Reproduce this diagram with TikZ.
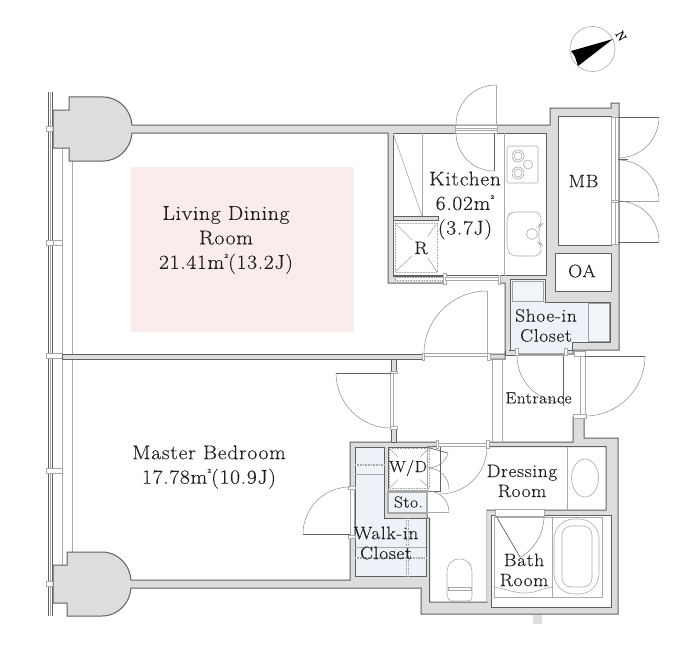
\documentclass[tikz,border=0pt]{standalone}
\usepackage{fontspec}
\setmainfont{Latin Modern Roman}[FakeStretch=1.08,LetterSpace=3.5,FakeBold=0.15]
\usetikzlibrary{calc}
\definecolor{wallfill}{HTML}{DCDEDD}
\definecolor{wallline}{HTML}{5F6161}
\definecolor{thin}{HTML}{A8AAAA}
\definecolor{pinkroom}{HTML}{F9ECEB}
\definecolor{closet}{HTML}{EDF2F9}
\definecolor{shelf}{HTML}{9EA2A6}
\tikzset{
  wall/.style={fill=wallfill,draw=wallline,line width=1pt,line join=miter},
  room/.style={fill=white,draw=wallline,line width=1pt},
  walkin/.style={fill=closet,draw=wallline,line width=1pt},
  fixture/.style={draw=thin,line width=.6pt},
  arcline/.style={draw=thin!90!black,line width=.6pt},
  leaf/.style={draw=wallline,line width=.7pt},
  jamb/.style={fill=white,draw=thin,line width=.6pt},
  dots/.style={draw=thin,line width=.6pt,densely dotted},
  label/.style={font=\fontsize{20}{24.5}\selectfont,align=center,inner sep=0pt,text=black!88},
  midlabel/.style={font=\fontsize{18}{20}\selectfont,align=center,inner sep=0pt,text=black!88},
  smalllabel/.style={font=\fontsize{16}{19}\selectfont,align=center,inner sep=0pt,text=black!88},
}
\newcommand{\sqm}{m\raisebox{.55em}{\fontsize{6}{6}\selectfont 2}}
\begin{document}
\begin{tikzpicture}[x=1pt,y=-1pt]
\useasboundingbox (0,0) rectangle (700,650);
% pink living zone
\fill[pinkroom] (131,167) rectangle (354,332);
% window lines
\foreach \xx in {48.5,52.5}{\draw[draw=wallline,line width=.6pt] (\xx,92) -- (\xx,616);}
\draw[fixture] (50.5,92) -- (50.5,616);
\draw[fixture] (62,148) -- (62,565);
\draw[fixture] (72,161) -- (72,552);
% mullions
\draw[jamb] (46,126) rectangle (53,131);
\draw[jamb] (46,240) rectangle (53,245);
\draw[jamb] (53,240) rectangle (62,245);
\draw[jamb] (46,353) rectangle (62,358);
\draw[jamb] (46,468) rectangle (62,473);
\draw[jamb] (46,581) rectangle (53,586);
% partition living / bedroom
\draw[wall] (62,354.5) rectangle (422,359);
\draw[wall] (391,359) rectangle (396,371);
% columns and top wall + right block
\draw[wall] (53,110) -- (69,110) -- (69,97) -- (103,97)
  .. controls (119,97) and (131,110) .. (132,125)
  -- (550,125) -- (550,108) -- (611,108) -- (611,103) -- (619,103)
  -- (619,350) -- (573,350) -- (573,354) -- (515,354) -- (515,354.5) -- (505,354.5) -- (505,359) -- (488,359) -- (488,354) -- (505,354) -- (505,283)
  -- (499,283) -- (499,276) -- (443,276) -- (443,283) -- (388,283) -- (388,133)
  -- (132,133) .. controls (131,148) and (119,161) .. (103,161)
  -- (69,161) -- (69,148) -- (53,148) -- cycle;
% kitchen
\draw[room] (393,133) rectangle (546,275.5);
\fill[white] (443,276) rectangle (499,282.6);
\draw[wall] (393,216) rectangle (438,220);
% MB, OA
\draw[room] (558,116) -- (611,116) -- (611,245) -- (558,245) -- cycle;
\draw[room] (555,253) rectangle (611,291);
% shoe-in closet
\draw[walkin] (510,279) -- (545,279) -- (545,302) -- (610,302) -- (610,342) -- (572,342) -- (572,350) -- (510,350) -- cycle;
\draw[fill=closet!80!white,draw=shelf,line width=1pt] (512,281) rectangle (543,301);
\draw[fill=closet!80!white,draw=shelf,line width=1pt] (588,303) rectangle (609,341);
\fill[closet] (515,349) rectangle (565,353);
\draw[draw=thin,line width=.7pt] (516,353) -- (565,353) (516,355.5) -- (565,355.5);
\draw[wall] (505,350) rectangle (515,355);
\fill[wallfill] (505.6,340) rectangle (509.4,354);
\draw[jamb] (515,348) rectangle (518,355);
\draw[jamb] (564,348) rectangle (567,355);
% lower block
\draw[wall] (131,580) -- (350,580) -- (350,442) -- (437,442) -- (437,447) -- (487,447) -- (487,442)
  -- (573,442) -- (573,416) -- (584,416) -- (584,438) -- (618,438) -- (618,614)
  -- (421,614) -- (421,588) -- (131,588)
  .. controls (130,603) and (118,616) .. (102,616) -- (67,616) -- (67,603) -- (53,603) -- (53,565) -- (67,565) -- (67,552) -- (102,552)
  .. controls (118,552) and (130,565) .. (131,580) -- cycle;
\fill[wallfill] (533,614.5) rectangle (542,624);
\draw[wall] (391,429) rectangle (396,442);
% dressing + toilet interior
\draw[room] (437,446.5) -- (606,446.5) -- (606,510) -- (487,510) -- (487,602) -- (429.5,602) -- (429.5,518) -- (427,518) -- (427,447) -- cycle;
\fill[white] (437.6,442) rectangle (486.4,447.5);
% bath
\draw[room] (491,515) -- (611,515) -- (611,607) -- (491,607) -- cycle;
\fill[wallfill] (487.4,510.5) rectangle (490.6,601.5);
\fill[wallfill] (487.4,510.5) rectangle (495,514.6);
\fill[wallfill] (544,510.5) rectangle (610.6,514.6);
% walk-in closet
\draw[walkin] (355,447) -- (384,447) -- (384,518) -- (426,518) -- (426,576) -- (355,576) -- cycle;
\fill[white] (349,488) rectangle (355,535);
\draw[fixture] (350,488) -- (350,535) (354,488) -- (354,535);
\fill[wallfill] (426.5,518.5) rectangle (429,580);
\draw[jamb] (348,486) rectangle (355,489);
\draw[jamb] (348,535) rectangle (355,538);
\foreach \yy in {464,557}{\draw[dots] (355,\yy) -- (384,\yy) (355,\yy+1.5) -- (384,\yy+1.5);}
\draw[dots] (384,557) -- (426,557) (384,558.5) -- (426,558.5);
\draw[fixture] (355,474) -- (384,474) (355,547) -- (426,547);
\draw[dots] (406,518) -- (406,576) (408,518) -- (408,576);
% W/D and Sto
\draw[fill=white,draw=none] (388,447) rectangle (427,490);
\draw[draw=wallline,line width=1pt] (388,490) -- (388,447) -- (427,447);
\draw[draw=thin,line width=1pt] (388,490) -- (427,490);
\draw[dots] (389.5,448.5) rectangle (429,488);
\draw[fixture] (389.5,448.5) -- (398,457) (429,448.5) -- (420,457) (389.5,488) -- (398,479.5) (429,488) -- (420,479.5);
\draw[fill=closet,draw=thin,line width=1.3pt] (388,492) rectangle (427,513);
\draw[draw=thin,line width=1pt] (427,448) -- (427,513);
% doors: kitchen
\draw[jamb] (455,125) rectangle (497,133);
\draw[fixture] (455,128) -- (497,128) (455,130.5) -- (497,130.5);
\draw[draw=thin,line width=1pt] (496,85) -- (496,125);
\draw[arcline] (496,85) arc[start angle=270,end angle=180,radius=40];
\draw[leaf] (494,133) -- (494,171);
\draw[arcline] (456,133) arc[start angle=180,end angle=90,radius=38];
% kitchen fixtures
\draw[fixture] (504,133) -- (504,275.5);
\draw[fixture] (422,133) -- (422,216);
\draw[fixture] (393,133) -- (422,216);
\draw[fixture,rounded corners=1.5pt] (507,146) rectangle (538,183);
\foreach \yy in {156,173}{\draw[fixture] (518,\yy) circle[radius=6]; \draw[fixture] (518,\yy) circle[radius=4];}
\draw[fixture] (528,164.5) circle[radius=4.5];
\draw[fixture,rounded corners=5pt] (507,216) -- (512,212) -- (540,212) -- (542,224) -- (539,226) -- (539,243) -- (542,245) -- (540,256) -- (512,256) -- (507,250) -- cycle;
\draw[fixture] (532,234) circle[radius=5.5];
% R box
\draw[dots] (395,223) rectangle (437,272);
\draw[fixture] (395,223) -- (412,240) (437,223) -- (428,236) (395,272) -- (412,256) (437,272) -- (428,258);
% closet below R
\fill[wallline] (393,275) rectangle (443,277);
\draw[fill=white,draw=thin,densely dotted,line width=.6pt] (395,277.5) rectangle (443,280.5);
\draw[jamb] (443,273) rectangle (446,284);
\draw[jamb] (445.5,277) rectangle (498,280);
\draw[jamb] (498,275) rectangle (500.5,284);
% MB doors
\draw[jamb] (611,117) rectangle (618,244);
\draw[fixture] (615.5,117) -- (615.5,244);
\draw[jamb] (611,200) rectangle (618,202);
\draw[leaf] (618,117) -- (659,117);
\draw[arcline] (659,117) arc[start angle=0,end angle=90,radius=41];
\draw[arcline] (618,160) arc[start angle=270,end angle=360,radius=41];
\draw[leaf] (618,159) -- (628,159);
\draw[draw=thin,line width=1pt] (628,201) -- (659,201);
\draw[leaf] (618,201) -- (628,201);
\draw[arcline] (618,201) arc[start angle=270,end angle=360,radius=41];
\draw[leaf] (618,242) -- (659,242);
% living door
\draw[draw=thin,line width=1pt] (487,291) -- (487,353);
\draw[arcline] (487,291) arc[start angle=270,end angle=180,radius=63];
\draw[fixture] (424,353.5) -- (487,353.5) (424,356) -- (487,356);
\draw[jamb] (422,353) rectangle (424.5,360);
\draw[jamb] (487,353) rectangle (490,360);
% bedroom door
\draw[jamb] (390,371.5) rectangle (397,373.5);
\draw[jamb] (390,426.5) rectangle (397,429);
\draw[fixture] (390.5,373.5) -- (390.5,426.5) (393.5,373.5) -- (393.5,426.5);
\draw[leaf] (336,373) -- (391,373);
\draw[arcline] (336,373) arc[start angle=180,end angle=90,radius=55];
% hall lines
\draw[fixture] (492,359) -- (492,442) (502,359) -- (502,442);
% entrance doors
\draw[leaf] (563,356) -- (563,406);
\draw[arcline] (517,356) arc[start angle=180,end angle=90,radius=46];
\draw[fixture] (580,356) -- (580,414) (585,356) -- (585,414);
\draw[jamb] (574,351) rectangle (585,356);
\draw[leaf] (585,356) -- (645,356);
\draw[arcline] (645,356) arc[start angle=0,end angle=90,radius=60];
\draw[jamb] (573,414) rectangle (586,418);
% dressing doors
\draw[fixture] (438,443.5) -- (487,443.5) (438,446.5) -- (487,446.5);
\draw[jamb] (436,440) rectangle (438.5,448);
\draw[jamb] (486,440) rectangle (489,448);
\draw[leaf] (440,447) -- (440,492);
\draw[arcline] (487,447) arc[start angle=0,end angle=90,radius=47];
% W/D doors
\draw[leaf] (428,447.5) -- (448,453);
\draw[arcline] (448,453) arc[start angle=15,end angle=90,radius=20];
\draw[arcline] (428,468) arc[start angle=270,end angle=360,radius=21];
\draw[leaf] (428,491.5) -- (440,491.5);
\draw[arcline] (428,491) arc[start angle=270,end angle=360,radius=21];
\draw[draw=thin,line width=1.2pt] (428,512.5) -- (449,512.5);
% W/I door
\draw[leaf] (303,534) -- (350,534);
\draw[arcline] (303,534) arc[start angle=180,end angle=270,radius=47];
% dressing fixtures
\draw[fixture] (567,446.5) -- (567,510);
\draw[fixture] (585,478) ellipse[x radius=13.5,y radius=19];
% bath
\draw[jamb] (495,509.5) rectangle (544,516);
\draw[leaf] (496,516) -- (520,557);
\draw[arcline] (544,516) arc[start angle=0,end angle=60,radius=48];
\draw[fixture] (494,517) rectangle (602,597);
\draw[fixture] (552,517) -- (552,597);
\draw[fixture] (494,587) .. controls (510,590) and (515,593) .. (525,593) .. controls (535,593) and (540,589) .. (552,587);
\draw[fixture,rounded corners=20pt] (554,519) rectangle (599,594);
\draw[fixture,rounded corners=9pt] (562,526) rectangle (592,587);
% toilet
\draw[fixture] (447,590) -- (447,573) .. controls (447,564) and (452,559) .. (459.5,559) .. controls (467,559) and (472,564) .. (472,573) -- (472,596) .. controls (472,600) and (470,601) .. (467,601) -- (452,601) .. controls (449,601) and (447,598) .. (447,595) -- cycle;
\draw[fixture] (448,587) rectangle (471,590);
% compass
\draw[fixture] (592.5,49) circle[radius=22.5];
\fill[black] (613,39) -- (571,51) .. controls (575,55) and (576,60) .. (578,66) -- cycle;
\node[inner sep=0pt,rotate=-60,font=\fontsize{12}{12}\selectfont] (north) at (621,36) {N};
% labels
\node[label] (ldr) at (226,240) {Living Dining\\Room\\21.41\sqm(13.2J)};
\node[label] (kit) at (465,205.5) {Kitchen\\6.02\sqm\\(3.7J)};
\node[midlabel] (r) at (421,248) {R};
\node[midlabel] (mb) at (583.5,181) {MB};
\node[midlabel] (oa) at (582,271) {OA};
\node[midlabel] (shoe) at (546,325.5) {Shoe-in\\Closet};
\node[smalllabel] (ent) at (538.5,398) {Entrance};
\node[midlabel] (dress) at (522,481) {Dressing\\Room};
\node[label] (mbr) at (209,467) {Master Bedroom\\17.78\sqm(10.9J)};
\node[smalllabel] (wd) at (408,468) {W/D};
\node[smalllabel] (sto) at (408.5,502) {Sto.};
\node[midlabel] (wic) at (386,543) {Walk-in\\Closet};
\node[midlabel] (bath) at (524,570) {Bath\\Room};
\end{tikzpicture}
\end{document}
